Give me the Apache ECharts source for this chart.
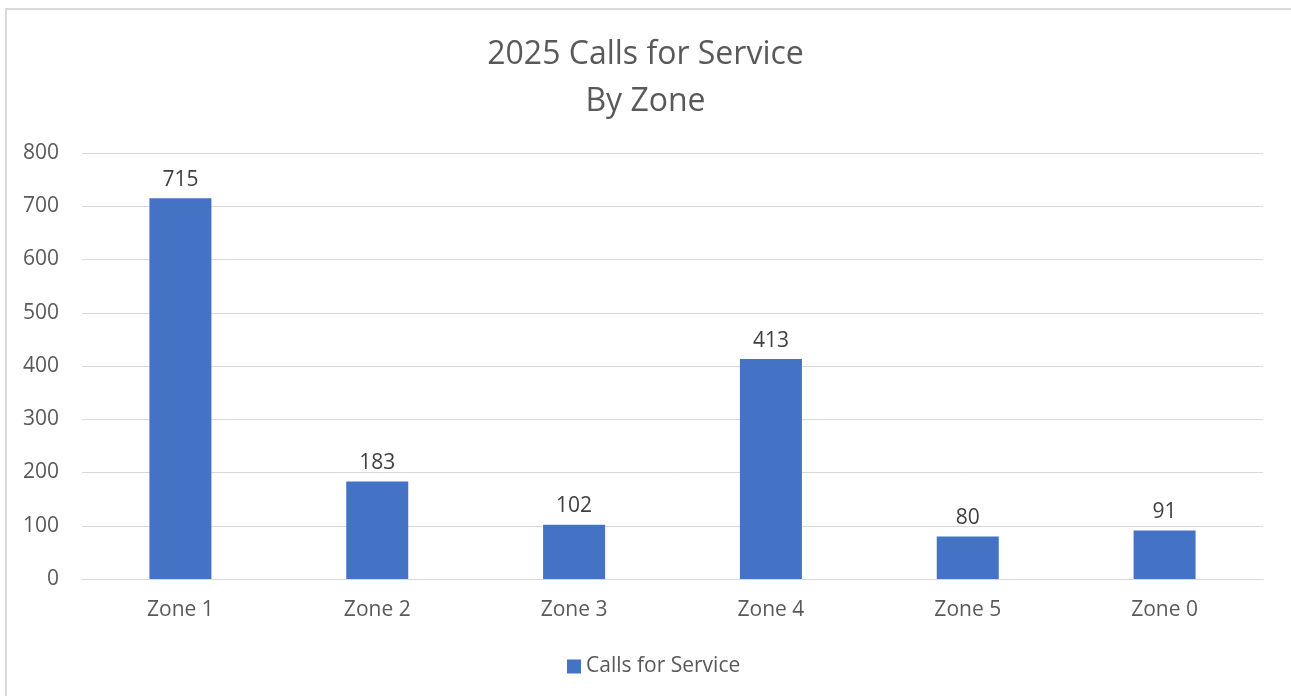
<!DOCTYPE html>
<html>
<head>
<meta charset="utf-8">
<script src="https://cdn.jsdelivr.net/npm/echarts@6/dist/echarts.min.js"></script>
<style>
html,body{margin:0;padding:0;background:#fff;}
#chart{width:1291px;height:696px;}
</style>
</head>
<body>
<div id="chart"></div>
<script>
const categories = ['Zone 1', 'Zone 2', 'Zone 3', 'Zone 4', 'Zone 5', 'Zone 0'];
const callsForService = [715, 183, 102, 413, 80, 91];
const seriesName = 'Calls for Service';
const titleText = '2025 Calls for Service\nBy Zone';

const FONT = '"Open Sans", "Noto Sans", sans-serif';
const chart = echarts.init(document.getElementById('chart'), null, {renderer: 'canvas'});
chart.setOption({
  animation: false,
  backgroundColor: '#ffffff',
  graphic: [{
    type: 'rect', silent: true, z: -1,
    shape: {x: 6, y: 9, width: 1320, height: 720},
    style: {fill: 'none', stroke: '#d9d9d9', lineWidth: 2}
  }],
  title: {
    text: titleText,
    left: 'center',
    top: 26,
    textStyle: {fontFamily: FONT, fontSize: 32, fontWeight: 'normal', color: '#595959', lineHeight: 47}
  },
  legend: {
    data: [seriesName],
    left: 562,
    top: 651,
    icon: 'rect',
    itemWidth: 14,
    itemHeight: 14,
    itemGap: 6,
    textStyle: {fontFamily: FONT, fontSize: 21, color: '#595959'}
  },
  grid: {left: 82, right: 28, top: 153, bottom: 117, containLabel: false},
  xAxis: {
    type: 'category',
    data: categories,
    axisLine: {show: true, lineStyle: {color: '#d9d9d9', width: 1}},
    axisTick: {show: false},
    axisLabel: {fontFamily: FONT, fontSize: 21, color: '#595959', margin: 21}
  },
  yAxis: {
    type: 'value',
    min: 0, max: 800, interval: 100,
    axisLine: {show: false},
    axisTick: {show: false},
    splitLine: {lineStyle: {color: '#d9d9d9', width: 1}},
    axisLabel: {fontFamily: FONT, fontSize: 21, color: '#595959', margin: 23}
  },
  series: [{
    name: seriesName,
    type: 'bar',
    data: callsForService,
    barWidth: 62,
    itemStyle: {color: '#4472C4'},
    label: {show: true, position: 'top', distance: 8, fontFamily: FONT, fontSize: 21, color: '#404040'}
  }]
});
</script>
</body>
</html>
